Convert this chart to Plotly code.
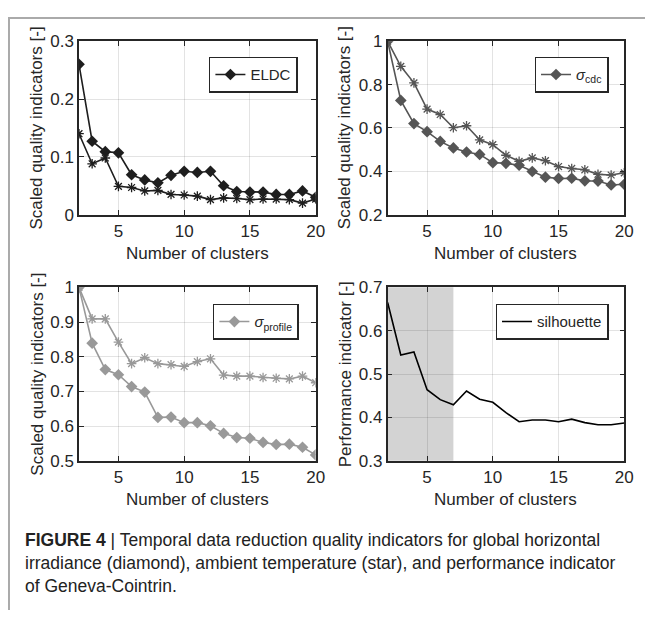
import plotly.graph_objects as go

clusters = list(range(2, 21))

eldc_ghi = [0.260, 0.127, 0.109, 0.107, 0.069, 0.060, 0.055, 0.068, 0.075, 0.073,
            0.075, 0.050, 0.040, 0.039, 0.039, 0.035, 0.035, 0.041, 0.030]
eldc_temp = [0.140, 0.088, 0.098, 0.049, 0.047, 0.041, 0.042, 0.035, 0.034, 0.032,
             0.026, 0.029, 0.028, 0.026, 0.027, 0.027, 0.026, 0.020, 0.027]

cdc_ghi = [1.0, 0.727, 0.620, 0.583, 0.538, 0.508, 0.489, 0.478, 0.440, 0.437,
           0.428, 0.399, 0.373, 0.367, 0.368, 0.356, 0.355, 0.337, 0.340]
cdc_temp = [1.0, 0.884, 0.808, 0.687, 0.662, 0.601, 0.610, 0.545, 0.523, 0.474,
            0.446, 0.462, 0.449, 0.422, 0.413, 0.407, 0.386, 0.383, 0.393]

prof_ghi = [1.0, 0.839, 0.763, 0.748, 0.714, 0.698, 0.625, 0.626, 0.610, 0.610,
            0.601, 0.579, 0.567, 0.565, 0.553, 0.547, 0.548, 0.539, 0.517]
prof_temp = [1.0, 0.909, 0.909, 0.842, 0.780, 0.797, 0.780, 0.777, 0.772, 0.786,
             0.794, 0.747, 0.744, 0.744, 0.740, 0.738, 0.736, 0.744, 0.725]

silhouette = [0.665, 0.544, 0.551, 0.464, 0.441, 0.429, 0.461, 0.442, 0.435, 0.411,
              0.390, 0.394, 0.394, 0.390, 0.396, 0.388, 0.383, 0.383, 0.387]
shade_range = [2, 7]

legend_names = ["ELDC", "<i>σ</i><sub>cdc</sub>", "<i>σ</i><sub>profile</sub>", "silhouette"]
y_ranges = [[0, 0.3], [0.2, 1.0], [0.5, 1.0], [0.3, 0.7]]
y_dticks = [0.1, 0.2, 0.1, 0.1]
y_titles = ["Scaled quality indicators [-]", "Scaled quality indicators [-]",
            "Scaled quality indicators [-]", "Performance indicator [-]"]
x_title = "Number of clusters"
caption = ("<b>FIGURE 4</b> | Temporal data reduction quality indicators for global horizontal<br>"
           "irradiance (diamond), ambient temperature (star), and performance indicator<br>"
           "of Geneva-Cointrin.")

# the page body has an 8px margin; figure is sized to fit the 654x620 window
OFF = 8
W, H = 654 - OFF, 620 - OFF
FONT = "Liberation Sans, Arial, sans-serif"
AX = "#262626"
GRID = "rgba(38,38,38,0.13)"
FS = 17

# panel boxes in page pixels (left, right, top, bottom)
boxes = [(80, 320, 33, 212), (393, 633, 33, 212), (80, 320, 287, 466), (393, 633, 287, 466)]

def px2x(p):
    return (p - OFF) / W

def px2y(p):
    return 1 - (p - OFF) / H

fig = go.Figure()

series = [
    (eldc_ghi, eldc_temp, "#1e1e1e"),
    (cdc_ghi, cdc_temp, "#555555"),
    (prof_ghi, prof_temp, "#999999"),
]

for i, (ghi, temp, col) in enumerate(series):
    ax = "" if i == 0 else str(i + 1)
    leg = "legend" if i == 0 else "legend" + str(i + 1)
    fig.add_trace(go.Scatter(
        x=clusters, y=temp, mode="lines+markers", xaxis="x" + ax, yaxis="y" + ax,
        line=dict(color=col, width=1.6),
        marker=dict(symbol="asterisk-open", size=8, line=dict(color=col, width=1.3)),
        showlegend=False))
    fig.add_trace(go.Scatter(
        x=clusters, y=ghi, mode="lines+markers", xaxis="x" + ax, yaxis="y" + ax,
        line=dict(color=col, width=1.6),
        marker=dict(symbol="diamond", size=9, color=col),
        name=legend_names[i], legend=leg, showlegend=True))

fig.add_trace(go.Scatter(
    x=clusters, y=silhouette, mode="lines", xaxis="x4", yaxis="y4",
    line=dict(color="black", width=1.6),
    name=legend_names[3], legend="legend4", showlegend=True))

layout = dict(width=W, height=H, margin=dict(l=0, r=0, t=0, b=0),
              paper_bgcolor="white", plot_bgcolor="white",
              font=dict(family=FONT, size=FS, color=AX))

annotations = []
for i, (l, r, t, b) in enumerate(boxes):
    ax = "" if i == 0 else str(i + 1)
    layout["xaxis" + ax] = dict(
        domain=[px2x(l), px2x(r)], anchor="y" + ax, range=[2, 20], tick0=0, dtick=5,
        showgrid=True, gridcolor=GRID, gridwidth=1, zeroline=False,
        showline=True, linecolor=AX, linewidth=1.5, mirror="ticks",
        ticks="inside", ticklen=5, tickwidth=1, tickcolor=AX,
        tickfont=dict(size=FS, color=AX, family=FONT))
    layout["yaxis" + ax] = dict(
        domain=[px2y(b), px2y(t)], anchor="x" + ax, range=y_ranges[i], dtick=y_dticks[i],
        tick0=0, showgrid=True, gridcolor=GRID, gridwidth=1, zeroline=False,
        showline=True, linecolor=AX, linewidth=1.5, mirror="ticks",
        ticks="inside", ticklen=5, tickwidth=1, tickcolor=AX,
        tickfont=dict(size=FS, color=AX, family=FONT))
    annotations.append(dict(text=x_title, xref="paper", yref="paper",
                            x=px2x((l + r) / 2), y=px2y(b + 40), xanchor="center", yanchor="middle",
                            showarrow=False, font=dict(size=FS, color=AX, family=FONT)))
    annotations.append(dict(text=y_titles[i], xref="paper", yref="paper", textangle=-90,
                            x=px2x(l - 43), y=px2y((t + b) / 2), xanchor="center", yanchor="middle",
                            showarrow=False, font=dict(size=FS, color=AX, family=FONT)))

annotations.append(dict(text=caption, xref="paper", yref="paper", x=px2x(23), y=px2y(571),
                        xanchor="left", yanchor="middle", align="left", showarrow=False,
                        font=dict(size=17.5, color="#222222", family=FONT)))

legend_pos = [(302, 49), (617, 49), (303, 304), (617, 304)]
for i, (rx, ty) in enumerate(legend_pos):
    key = "legend" if i == 0 else "legend" + str(i + 1)
    layout[key] = dict(x=px2x(rx), y=px2y(ty), xanchor="right", yanchor="top",
                       bgcolor="white", bordercolor=AX, borderwidth=1.5,
                       font=dict(size=15, color=AX, family=FONT),
                       itemwidth=30, tracegroupgap=0)

layout["annotations"] = annotations
layout["shapes"] = [
    dict(type="line", xref="paper", yref="paper", x0=0, x1=1, y0=1 - 1 / H, y1=1 - 1 / H,
         line=dict(color="#aaaaaa", width=2)),
    dict(type="line", xref="paper", yref="paper", x0=1 / W, x1=1 / W, y0=1, y1=0,
         line=dict(color="#aaaaaa", width=2)),
    dict(type="rect", xref="x4", yref="y4 domain", x0=shade_range[0], x1=shade_range[1],
         y0=0, y1=1, fillcolor="#d3d3d3", line=dict(width=0), layer="below"),
]
fig.update_layout(**layout)

fig.write_html("out.html")
